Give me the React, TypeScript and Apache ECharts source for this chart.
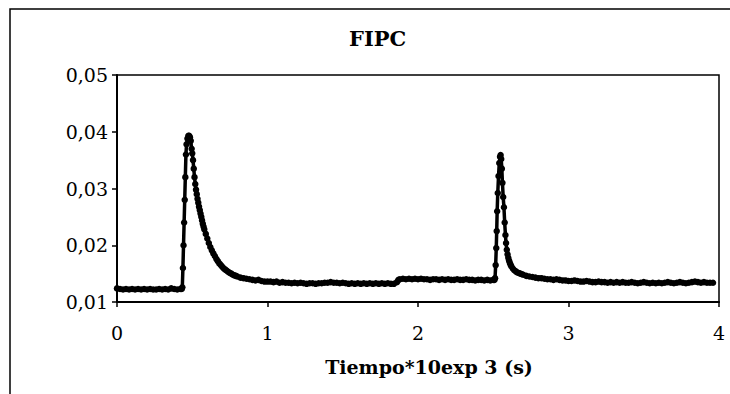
import React, { useEffect, useRef } from "react";
import * as echarts from "echarts";

const chartTitle = "FIPC";
const xAxisName = "Tiempo*10exp 3 (s)";
const xRange = [0, 4];
const yRange = [0.01, 0.05];

// [tiempo (x10^3 s), FIPC]
const baselineA: [number, number][] = [
  [0.0, 0.0124], [0.02, 0.0123], [0.04, 0.0122], [0.06, 0.0123], [0.08, 0.0122],
  [0.1, 0.0123], [0.12, 0.0122], [0.14, 0.0123], [0.16, 0.0122], [0.18, 0.0123],
  [0.2, 0.0122], [0.22, 0.0123], [0.24, 0.0122], [0.26, 0.0122], [0.28, 0.0123],
  [0.3, 0.0122], [0.32, 0.0123], [0.34, 0.0122], [0.36, 0.0124], [0.38, 0.0123],
  [0.4, 0.0122], [0.42, 0.0123], [0.43, 0.0123],
];

const firstPeak: [number, number][] = [
  [0.434, 0.0126], [0.438, 0.016], [0.442, 0.02], [0.446, 0.024], [0.45, 0.028],
  [0.454, 0.032], [0.458, 0.036], [0.462, 0.0378], [0.468, 0.0388], [0.474, 0.0393],
  [0.48, 0.0393], [0.485, 0.039], [0.49, 0.0384], [0.496, 0.037], [0.5, 0.0362],
  [0.505, 0.035], [0.51, 0.0335], [0.515, 0.032], [0.52, 0.0308], [0.525, 0.0298],
  [0.53, 0.029], [0.535, 0.0282], [0.54, 0.0275], [0.545, 0.0268], [0.55, 0.0262],
  [0.555, 0.0256], [0.56, 0.025], [0.565, 0.0244], [0.57, 0.0238], [0.575, 0.0233],
  [0.58, 0.0228], [0.59, 0.022], [0.6, 0.0212], [0.61, 0.0204], [0.62, 0.0197],
  [0.63, 0.0191], [0.64, 0.0186], [0.65, 0.0181], [0.66, 0.0176], [0.67, 0.0172],
  [0.68, 0.0168], [0.69, 0.0165], [0.7, 0.0162], [0.71, 0.0159], [0.72, 0.0157],
  [0.73, 0.0155], [0.74, 0.0153], [0.75, 0.0151], [0.76, 0.015], [0.77, 0.0148],
  [0.78, 0.0147], [0.79, 0.0146], [0.8, 0.0145], [0.82, 0.0143], [0.84, 0.0142],
  [0.86, 0.0141], [0.88, 0.014], [0.9, 0.0139], [0.92, 0.0138], [0.94, 0.0139],
  [0.96, 0.0137], [0.98, 0.0136], [1.0, 0.0136],
];

const baselineB: [number, number][] = [
  [1.02, 0.0136], [1.04, 0.0135], [1.06, 0.0136], [1.08, 0.0134], [1.1, 0.0135],
  [1.12, 0.0134], [1.14, 0.0134], [1.16, 0.0133], [1.18, 0.0134], [1.2, 0.0133],
  [1.22, 0.0134], [1.24, 0.0133], [1.26, 0.0132], [1.28, 0.0133], [1.3, 0.0133],
  [1.32, 0.0132], [1.34, 0.0133], [1.36, 0.0133], [1.38, 0.0134], [1.4, 0.0134],
  [1.42, 0.0135], [1.44, 0.0134], [1.46, 0.0134], [1.48, 0.0133], [1.5, 0.0134],
  [1.52, 0.0133], [1.54, 0.0132], [1.56, 0.0133], [1.58, 0.0132], [1.6, 0.0133],
  [1.62, 0.0132], [1.64, 0.0133], [1.66, 0.0132], [1.68, 0.0133], [1.7, 0.0132],
  [1.72, 0.0133], [1.74, 0.0132], [1.76, 0.0133], [1.78, 0.0132], [1.8, 0.0133],
  [1.82, 0.0132], [1.84, 0.0132], [1.86, 0.0135], [1.87, 0.0139], [1.88, 0.014],
  [1.9, 0.0141], [1.92, 0.014], [1.94, 0.0141], [1.96, 0.014], [1.98, 0.0141],
  [2.0, 0.014], [2.02, 0.0141], [2.04, 0.014], [2.06, 0.014], [2.08, 0.0139],
  [2.1, 0.014], [2.12, 0.014], [2.14, 0.0139], [2.16, 0.014], [2.18, 0.0139],
  [2.2, 0.014], [2.22, 0.0139], [2.24, 0.0139], [2.26, 0.014], [2.28, 0.0139],
  [2.3, 0.0139], [2.32, 0.014], [2.34, 0.0139], [2.36, 0.0139], [2.38, 0.0138],
  [2.4, 0.0139], [2.42, 0.0139], [2.44, 0.0138], [2.46, 0.0139], [2.48, 0.0138],
  [2.5, 0.0139], [2.508, 0.0139],
];

const secondPeak: [number, number][] = [
  [2.512, 0.0142], [2.516, 0.0165], [2.52, 0.0195], [2.523, 0.0225], [2.526, 0.026],
  [2.53, 0.0292], [2.535, 0.0322], [2.54, 0.0345], [2.545, 0.0356], [2.549, 0.0359],
  [2.553, 0.0352], [2.557, 0.0335], [2.561, 0.031], [2.566, 0.0285], [2.571, 0.0267],
  [2.576, 0.024], [2.581, 0.0218], [2.585, 0.0204], [2.59, 0.0192], [2.595, 0.0184],
  [2.6, 0.0178], [2.605, 0.0173], [2.61, 0.0169], [2.615, 0.0166], [2.62, 0.0163],
  [2.63, 0.0159], [2.64, 0.0156], [2.65, 0.0154], [2.66, 0.0152], [2.67, 0.0151],
  [2.68, 0.015], [2.69, 0.0149], [2.7, 0.0148], [2.72, 0.0146], [2.74, 0.0145],
  [2.76, 0.0144], [2.78, 0.0143], [2.8, 0.0142], [2.82, 0.0142], [2.84, 0.0141],
  [2.86, 0.014],
];

const tail: [number, number][] = [
  [2.88, 0.014], [2.9, 0.0139], [2.92, 0.014], [2.94, 0.0139], [2.96, 0.0138],
  [2.98, 0.0138], [3.0, 0.0137], [3.02, 0.0137], [3.04, 0.0138], [3.06, 0.0137],
  [3.08, 0.0136], [3.1, 0.0136], [3.12, 0.0137], [3.14, 0.0136], [3.16, 0.0135],
  [3.18, 0.0135], [3.2, 0.0136], [3.22, 0.0135], [3.24, 0.0135], [3.26, 0.0134],
  [3.28, 0.0135], [3.3, 0.0134], [3.32, 0.0135], [3.34, 0.0134], [3.36, 0.0135],
  [3.38, 0.0134], [3.4, 0.0134], [3.42, 0.0135], [3.44, 0.0134], [3.46, 0.0133],
  [3.48, 0.0134], [3.5, 0.0135], [3.52, 0.0134], [3.54, 0.0133], [3.56, 0.0134],
  [3.58, 0.0133], [3.6, 0.0134], [3.62, 0.0133], [3.64, 0.0134], [3.66, 0.0135],
  [3.68, 0.0134], [3.7, 0.0133], [3.72, 0.0134], [3.74, 0.0135], [3.76, 0.0134],
  [3.78, 0.0133], [3.8, 0.0134], [3.82, 0.0135], [3.84, 0.0136], [3.86, 0.0135],
  [3.88, 0.0134], [3.9, 0.0135], [3.92, 0.0134], [3.94, 0.0134], [3.96, 0.0134],
];

const FONT = "DejaVu Serif";

export default function App() {
  const ref = useRef<HTMLDivElement>(null);

  useEffect(() => {
    if (!ref.current) return;
    const chart = echarts.init(ref.current, null, { renderer: "svg" });
    const data = [...baselineA, ...firstPeak, ...baselineB, ...secondPeak, ...tail];
    chart.setOption({
      animation: false,
      backgroundColor: "#fff",
      textStyle: { fontFamily: FONT },
      title: {
        text: chartTitle,
        left: 349,
        top: 28,
        padding: 0,
        textStyle: { fontFamily: FONT, fontWeight: "bold", fontSize: 21, color: "#000" },
      },
      graphic: [
        {
          type: "rect",
          shape: { x: 10, y: 9, width: 900, height: 600 },
          style: { fill: "none", stroke: "#000", lineWidth: 1.5 },
          silent: true,
        },
      ],
      grid: {
        left: 117,
        top: 75,
        right: 11,
        bottom: 92,
        show: true,
        borderColor: "#000",
        borderWidth: 1.5,
        backgroundColor: "transparent",
      },
      xAxis: {
        type: "value",
        min: xRange[0],
        max: xRange[1],
        interval: 1,
        name: xAxisName,
        nameLocation: "middle",
        nameGap: 55,
        nameTextStyle: {
          fontFamily: FONT,
          fontWeight: "bold",
          fontSize: 19,
          color: "#000",
          padding: [0, 0, 0, 22],
        },
        axisLine: { show: true, lineStyle: { color: "#000", width: 2 } },
        axisTick: { show: true, inside: false, length: 5, lineStyle: { color: "#000", width: 1.5 } },
        axisLabel: { fontFamily: FONT, fontSize: 19, color: "#000", margin: 21 },
        splitLine: { show: false },
      },
      yAxis: {
        type: "value",
        min: yRange[0],
        max: yRange[1],
        interval: 0.01,
        axisLine: { show: true, lineStyle: { color: "#000", width: 2 } },
        axisTick: { show: true, inside: false, length: 5, lineStyle: { color: "#000", width: 1.5 } },
        axisLabel: {
          fontFamily: FONT,
          fontSize: 19,
          color: "#000",
          margin: 9,
          formatter: (v: number) => v.toFixed(2).replace(".", ","),
        },
        splitLine: { show: false },
      },
      series: [
        {
          type: "line",
          data,
          showAllSymbol: true,
          symbol: "circle",
          symbolSize: 6.5,
          itemStyle: { color: "#000" },
          lineStyle: { color: "#000", width: 3.5 },
        },
      ],
    });
    return () => chart.dispose();
  }, []);

  return (
    <div
      ref={ref}
      style={{ position: "fixed", left: 0, top: 0, width: 730, height: 394 }}
    />
  );
}
